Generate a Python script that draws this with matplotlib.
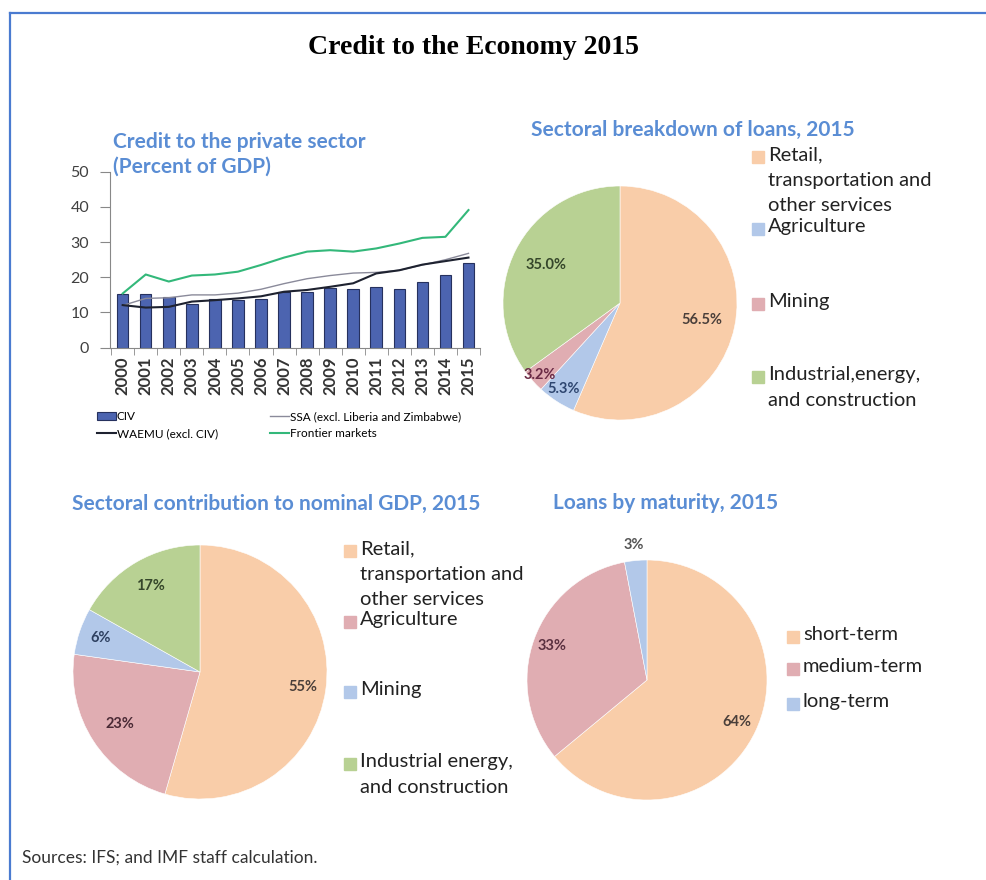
import numpy as np
import matplotlib.pyplot as plt
from matplotlib.lines import Line2D
from matplotlib.patches import Rectangle

# credit to the private sector, percent of GDP
years = [str(y) for y in range(2000, 2016)]
civ = [15.2, 15.2, 14.5, 12.3, 13.8, 13.5, 13.8, 15.9, 15.9, 17.0, 16.8, 17.3, 16.8, 18.6, 20.7, 24.2]
ssa = [12.0, 14.0, 14.2, 15.0, 15.0, 15.5, 16.6, 18.2, 19.6, 20.5, 21.2, 21.4, 22.0, 23.5, 25.0, 26.8]
waemu = [12.1, 11.4, 11.6, 13.1, 13.5, 14.0, 14.6, 15.9, 16.4, 17.3, 18.3, 21.1, 22.0, 23.6, 24.6, 25.6]
frontier = [15.4, 20.8, 18.8, 20.5, 20.8, 21.6, 23.5, 25.6, 27.3, 27.7, 27.3, 28.2, 29.6, 31.2, 31.5, 39.1]

# sectoral breakdown of loans, 2015
loan_sectors = ['Retail,\ntransportation and\nother services', 'Agriculture', 'Mining',
                'Industrial,energy,\nand construction']
loan_shares = [56.5, 5.3, 3.2, 35.0]

# sectoral contribution to nominal GDP, 2015
gdp_sectors = ['Retail,\ntransportation and\nother services', 'Agriculture', 'Mining',
               'Industrial energy,\nand construction']
gdp_shares = [55, 23, 6, 17]

# loans by maturity, 2015
maturities = ['short-term', 'medium-term', 'long-term']
maturity_shares = [64, 33, 3]

W, H = 987, 880
peach, blue, pink, green = '#F9CDA9', '#B2C8E9', '#E0ADB2', '#B8D193'
title_blue = '#5A8DD4'
plt.rcParams['font.family'] = ['Lato', 'DejaVu Sans']

fig = plt.figure(figsize=(W / 100, H / 100), dpi=100)


def fx(x):
    return x / W


def fy(y):
    return 1 - y / H


# frame
fig.add_artist(Line2D([fx(10), fx(10)], [0, fy(13)], transform=fig.transFigure, color='#4A7BD0', lw=1.6))
fig.add_artist(Line2D([fx(10), 1], [fy(13), fy(13)], transform=fig.transFigure, color='#4A7BD0', lw=1.6))

fig.text(fx(474), fy(47), 'Credit to the Economy 2015', ha='center', va='center',
         family='Liberation Serif', weight='bold', size=20, color='black')

# ---- bar + line chart
ax = fig.add_axes([fx(110), fy(347.7), (480 - 110) / W, 176 / H])
x = np.arange(len(years))
ax.bar(x, civ, width=0.5, color='#4C64B0', edgecolor='#26315E', lw=0.8, label='CIV', zorder=2)
ax.plot(x, ssa, color='#8A8A9A', lw=1.0, label='SSA (excl. Liberia and Zimbabwe)', zorder=3)
ax.plot(x, waemu, color='#1E2230', lw=1.5, label='WAEMU (excl. CIV)', zorder=3)
ax.plot(x, frontier, color='#33B87A', lw=1.5, label='Frontier markets', zorder=3)
ax.set_xlim(-0.55, 15.5)
ax.set_ylim(0, 50)
ax.set_yticks(range(0, 51, 10))
ax.set_xticks(x)
ax.set_xticklabels(years, rotation=90, fontsize=12, fontweight='bold', color='#333333')
ax.set_xticks(np.arange(-0.5, 16, 1), minor=True)
ax.tick_params(axis='x', which='major', length=0, pad=6)
ax.tick_params(axis='x', which='minor', length=5, color='#888888')
ax.tick_params(axis='y', length=7, color='#888888', labelsize=11.5, labelcolor='#404040', pad=8)
for s in ['top', 'right']:
    ax.spines[s].set_visible(False)
for s in ['left', 'bottom']:
    ax.spines[s].set_color('#888888')
    ax.spines[s].set_linewidth(0.8)

h, l = ax.get_legend_handles_labels()
order = [l.index('CIV'), l.index('WAEMU (excl. CIV)'), l.index('SSA (excl. Liberia and Zimbabwe)'),
         l.index('Frontier markets')]
fig.legend([h[i] for i in order], [l[i] for i in order], ncol=2, loc='upper left',
           bbox_to_anchor=(fx(91), fy(405)), frameon=False, fontsize=8.5,
           handlelength=1.6, handletextpad=0.1, columnspacing=4.4, labelspacing=0.55, borderpad=0)

fig.text(fx(113), fy(142), 'Credit to the private sector', va='center', fontsize=15,
         fontweight='bold', color=title_blue)
fig.text(fx(113), fy(167), '(Percent of GDP)', va='center', fontsize=15,
         fontweight='bold', color=title_blue)


def draw_pie(cx, cy, r, values, colors, texts, dists, tcolors):
    a = fig.add_axes([fx(cx - r), fy(cy + r), 2 * r / W, 2 * r / H])
    wedges, _ = a.pie(values, colors=colors, startangle=90, counterclock=False,
                      wedgeprops=dict(linewidth=0.4, edgecolor='white'))
    for w, t, d, c in zip(wedges, texts, dists, tcolors):
        ang = np.deg2rad((w.theta1 + w.theta2) / 2)
        a.text(d * np.cos(ang), d * np.sin(ang), t, ha='center', va='center',
               fontsize=10.5, fontweight='bold', color=c)
    a.set_xlim(-1, 1)
    a.set_ylim(-1, 1)
    return a


def side_legend(xs, centers, labels, colors, fs=14.5):
    # centers: vertical centre of the first line of each entry, in pixels
    for c, lab, col in zip(centers, labels, colors):
        fig.patches.append(Rectangle((fx(xs - 16), fy(c + 6)), 12 / W, 12 / H,
                                     transform=fig.transFigure, color=col))
        fig.text(fx(xs), fy(c - 11), lab, va='top', ha='left', fontsize=fs,
                 color='#222222', linespacing=1.62)


# ---- loans by sector
fig.text(fx(531), fy(130), 'Sectoral breakdown of loans, 2015', va='center', fontsize=15,
         fontweight='bold', color=title_blue)
draw_pie(620, 303, 117, loan_shares, [peach, blue, pink, green],
         ['%.1f%%' % v for v in loan_shares], [0.71, 0.88, 0.92, 0.71],
         ['#4A3F3A', '#2E4670', '#6A2A45', '#35462A'])
side_legend(768, [157, 229, 304, 377], loan_sectors, [peach, blue, pink, green])

# ---- GDP by sector
fig.text(fx(72), fy(504), 'Sectoral contribution to nominal GDP, 2015', va='center', fontsize=15,
         fontweight='bold', color=title_blue)
draw_pie(200, 672, 127, gdp_shares, [peach, pink, blue, green],
         ['%d%%' % v for v in gdp_shares], [0.82, 0.75, 0.83, 0.78],
         ['#4A3F3A', '#4A2A35', '#2E4060', '#35462A'])
side_legend(360, [551, 622, 692, 764], gdp_sectors, [peach, pink, blue, green])

# ---- loans by maturity
fig.text(fx(553), fy(503), 'Loans by maturity, 2015', va='center', fontsize=15,
         fontweight='bold', color=title_blue)
draw_pie(647, 680, 120, maturity_shares, [peach, pink, blue],
         ['%d%%' % v for v in maturity_shares], [0.83, 0.84, 1.13],
         ['#4A3F3A', '#5A3040', '#555555'])
side_legend(803, [637, 669, 704], maturities, [peach, pink, blue])

fig.text(fx(22), fy(858), 'Sources: IFS; and IMF staff calculation.', va='center', fontsize=12.5,
         color='#333333')

fig.savefig('out.png', dpi=100)
